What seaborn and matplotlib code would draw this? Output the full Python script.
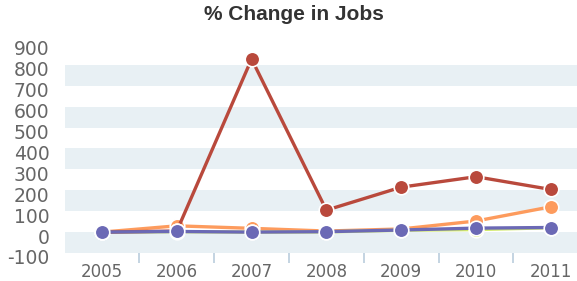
import matplotlib
matplotlib.use("Agg")
import matplotlib.pyplot as plt
import matplotlib.transforms as mtransforms
import numpy as np
import pandas as pd
import seaborn as sns

# values
years = [2005, 2006, 2007, 2008, 2009, 2010, 2011]
series_a = [0, 30, 18, 5, 15, 53, 121]      # orange
series_b = [0, 2, 0, 1, 9, 12, 21]          # green (mostly hidden)
series_c = [0, 5, 828, 105, 215, 265, 204]  # red
series_d = [0, 3, 0, 2, 10, 19, 22]         # purple
series_names = ["A", "B", "C", "D"]
series_colors = ["#fd9b5d", "#d2ea6b", "#b9493c", "#6b69b5"]

df = pd.DataFrame({
    "year": years * 4,
    "value": series_a + series_b + series_c + series_d,
    "series": np.repeat(series_names, len(years)),
})

sns.set_style("white")
plt.rcParams["font.family"] = ["DejaVu Sans"]

fig = plt.figure(figsize=(5.77, 2.81), dpi=100)
ax = fig.add_axes([64.6 / 577, 28 / 281, 523.6 / 577, 209 / 281])

# alternating background bands
for lo in range(-100, 900, 200):
    ax.axhspan(lo, lo + 100, color="#e8f0f4", lw=0, zorder=0)

sns.lineplot(
    data=df, x="year", y="value", hue="series", hue_order=series_names,
    palette=series_colors, marker="o", markersize=10.5, markeredgecolor="white",
    markeredgewidth=1.2, linewidth=2.4, legend=False, ax=ax, zorder=3,
)

ax.set_xlim(2004.5, 2011.5)
ax.set_ylim(-100, 900)
ax.set_xlabel("")
ax.set_ylabel("")
for s in ax.spines.values():
    s.set_visible(False)

ax.set_xticks(years)
ax.set_xticklabels([str(y) for y in years])
ax.set_xticks(np.arange(2005.5, 2011, 1), minor=True)
ax.tick_params(axis="x", which="major", length=0, pad=7, labelsize=12, labelcolor="#666666")
ax.tick_params(axis="x", which="minor", length=7, width=1.4, color="#c4d4e2", direction="in")
ax.xaxis.set_tick_params(which="minor", bottom=True)
for t in ax.xaxis.get_minorticklines():
    t.set_marker(3)

ax.set_yticks(range(-100, 901, 100))
ax.set_yticklabels([str(v) for v in range(-100, 901, 100)])
ax.tick_params(axis="y", length=0, pad=11, labelsize=13.5, labelcolor="#666666")
offset = mtransforms.ScaledTranslation(0, -4 / 100, fig.dpi_scale_trans)
for lbl in ax.get_yticklabels():
    lbl.set_transform(lbl.get_transform() + offset)

fig.text(294 / 577, 1 - 15 / 281, "% Change in Jobs", ha="center", va="center",
         fontsize=15, fontweight="bold", color="#333333", family=["Liberation Sans"])

fig.savefig("out.png", dpi=100)
